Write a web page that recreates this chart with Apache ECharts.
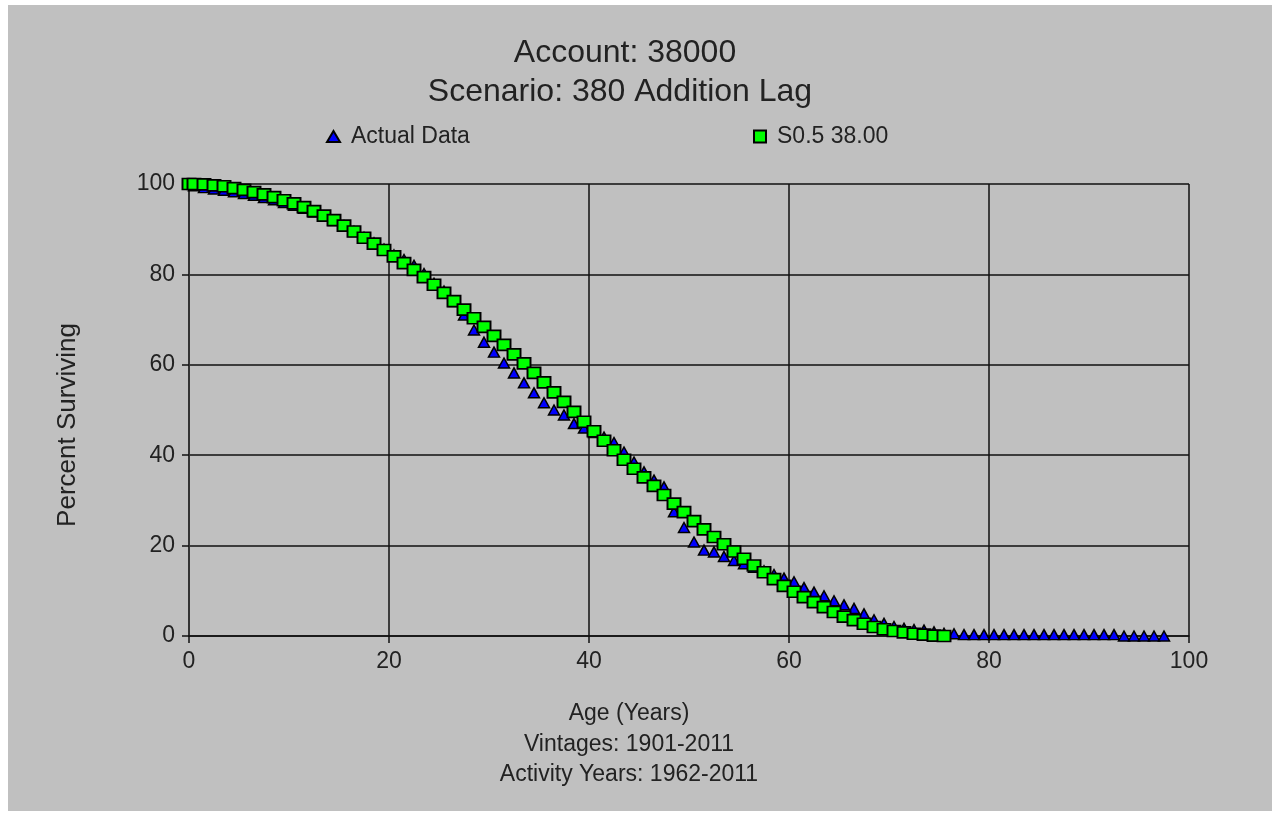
<!DOCTYPE html>
<html>
<head>
<meta charset="utf-8">
<title>Account 38000 - Percent Surviving</title>
<script src="https://cdn.jsdelivr.net/npm/echarts@6/dist/echarts.min.js"></script>
<style>
  html, body { margin: 0; padding: 0; background: #ffffff; }
  #panel { position: absolute; left: 8px; top: 5px; width: 1264px; height: 806px; background: #c0c0c0; }
  #chart { position: absolute; left: -8px; top: -5px; width: 1280px; height: 813px; }
</style>
</head>
<body>
<div id="panel"><div id="chart"></div></div>
<script>
// Observed survivorship: age (years) and percent surviving
const actualAges = [0, 0.5, 1.5, 2.5, 3.5, 4.5, 5.5, 6.5, 7.5, 8.5, 9.5, 10.5, 11.5, 12.5, 13.5, 14.5, 15.5, 16.5, 17.5, 18.5, 19.5,
  20.5, 21.5, 22.5, 23.5, 24.5, 25.5, 26.5, 27.5, 28.5, 29.5, 30.5, 31.5, 32.5, 33.5, 34.5, 35.5, 36.5, 37.5, 38.5, 39.5,
  40.5, 41.5, 42.5, 43.5, 44.5, 45.5, 46.5, 47.5, 48.5, 49.5, 50.5, 51.5, 52.5, 53.5, 54.5, 55.5, 56.5, 57.5, 58.5, 59.5,
  60.5, 61.5, 62.5, 63.5, 64.5, 65.5, 66.5, 67.5, 68.5, 69.5, 70.5, 71.5, 72.5, 73.5, 74.5, 75.5, 76.5, 77.5, 78.5, 79.5,
  80.5, 81.5, 82.5, 83.5, 84.5, 85.5, 86.5, 87.5, 88.5, 89.5, 90.5, 91.5, 92.5, 93.5, 94.5, 95.5, 96.5, 97.5];
const actualPct = [100, 99.6, 99.2, 98.9, 98.6, 98.3, 97.9, 97.5, 97.0, 96.5, 95.9, 95.3, 94.6, 93.8, 92.9, 91.9, 90.8, 89.5, 88.2, 87.0, 85.6,
  84.3, 83.3, 82.0, 80.2, 78.0, 76.3, 74.0, 71.0, 67.7, 65.0, 62.8, 60.4, 58.2, 56.0, 53.8, 51.6, 50.0, 48.9, 47.0, 46.0,
  45.0, 44.0, 42.8, 40.7, 38.5, 36.3, 34.5, 33.0, 27.5, 24.0, 20.8, 19.0, 18.6, 17.6, 16.7, 16.0, 15.2, 14.4, 13.6, 12.8,
  12.0, 10.7, 9.7, 8.9, 7.8, 6.9, 6.1, 4.9, 3.6, 2.8, 2.1, 1.7, 1.4, 1.3, 0.9, 0.6, 0.5, 0.3, 0.3, 0.3,
  0.3, 0.3, 0.3, 0.3, 0.3, 0.3, 0.3, 0.3, 0.3, 0.3, 0.3, 0.3, 0.3, 0, 0, 0, 0, 0];

// Fitted Iowa curve S0.5, average life 38.00
const curveAges = [0, 0.5, 1.5, 2.5, 3.5, 4.5, 5.5, 6.5, 7.5, 8.5, 9.5, 10.5, 11.5, 12.5, 13.5, 14.5, 15.5, 16.5, 17.5, 18.5, 19.5,
  20.5, 21.5, 22.5, 23.5, 24.5, 25.5, 26.5, 27.5, 28.5, 29.5, 30.5, 31.5, 32.5, 33.5, 34.5, 35.5, 36.5, 37.5, 38.5, 39.5,
  40.5, 41.5, 42.5, 43.5, 44.5, 45.5, 46.5, 47.5, 48.5, 49.5, 50.5, 51.5, 52.5, 53.5, 54.5, 55.5, 56.5, 57.5, 58.5, 59.5,
  60.5, 61.5, 62.5, 63.5, 64.5, 65.5, 66.5, 67.5, 68.5, 69.5, 70.5, 71.5, 72.5, 73.5, 74.5, 75.5];
const curvePct = [100, 100, 99.9, 99.7, 99.5, 99.1, 98.7, 98.2, 97.7, 97.1, 96.4, 95.7, 94.9, 94.0, 93.0, 92.0, 90.8, 89.5, 88.1, 86.8, 85.4,
  84.0, 82.5, 81.0, 79.4, 77.7, 75.9, 74.1, 72.2, 70.3, 68.4, 66.4, 64.4, 62.3, 60.3, 58.2, 56.1, 53.9, 51.8, 49.6, 47.4,
  45.3, 43.2, 41.1, 39.0, 37.0, 35.1, 33.2, 31.2, 29.3, 27.4, 25.4, 23.6, 21.9, 20.3, 18.7, 17.1, 15.6, 14.1, 12.6, 11.1,
  9.8, 8.6, 7.5, 6.4, 5.3, 4.3, 3.5, 2.7, 2.0, 1.5, 1.1, 0.8, 0.5, 0.3, 0.1, 0];

const xTicks = [0, 20, 40, 60, 80, 100];
const yTicks = [0, 20, 40, 60, 80, 100];

const seriesNames = ['Actual Data', 'S0.5 38.00'];
const titleLines = ['Account: 38000', 'Scenario: 380 Addition Lag'];
const xTitleLines = ['Age (Years)', 'Vintages: 1901-2011', 'Activity Years: 1962-2011'];
const yTitle = 'Percent Surviving';

const FONT = '"Liberation Sans", Arial, sans-serif';
const TXT = '#222222';

const actualData = actualAges.map((a, i) => [a, actualPct[i]]);
const curveData = curveAges.map((a, i) => [a, curvePct[i]]);

const chart = echarts.init(document.getElementById('chart'), null, { renderer: 'canvas' });

const gridLine = { show: true, lineStyle: { color: '#111', width: 1.5 } };

chart.setOption({
  backgroundColor: 'transparent',
  animation: false,
  title: [
    { text: titleLines[0], left: 620, top: 32, textAlign: 'center',
      textStyle: { fontFamily: FONT, fontSize: 32, fontWeight: 'normal', color: TXT } },
    { text: titleLines[1], left: 615, top: 71, textAlign: 'center',
      textStyle: { fontFamily: FONT, fontSize: 32, fontWeight: 'normal', color: TXT } }
  ],
  legend: [
    { data: [{ name: seriesNames[0], icon: 'triangle' }], left: 321, top: 120,
      itemWidth: 13, itemHeight: 11, itemGap: 6,
      textStyle: { fontFamily: FONT, fontSize: 23, color: TXT, padding: [2, 0, 0, 6] } },
    { data: [{ name: seriesNames[1], icon: 'rect' }], left: 748, top: 120,
      itemWidth: 12, itemHeight: 12, itemGap: 6,
      textStyle: { fontFamily: FONT, fontSize: 23, color: TXT, padding: [2, 0, 0, 6] } }
  ],
  grid: { left: 189, right: 91, top: 184, bottom: 177, containLabel: false },
  xAxis: {
    type: 'value', min: xTicks[0], max: xTicks[xTicks.length - 1], interval: 20,
    axisLine: { show: true, onZero: false, lineStyle: { color: '#111', width: 1.5 } },
    axisTick: { show: true, inside: false, length: 7, lineStyle: { color: '#111', width: 1.5 } },
    axisLabel: { margin: 14, fontFamily: FONT, fontSize: 23, color: TXT },
    splitLine: gridLine
  },
  yAxis: {
    type: 'value', min: yTicks[0], max: yTicks[yTicks.length - 1], interval: 20,
    axisLine: { show: true, onZero: false, lineStyle: { color: '#333', width: 2 } },
    axisTick: { show: true, inside: false, length: 7, lineStyle: { color: '#111', width: 1.5 } },
    axisLabel: { margin: 14, fontFamily: FONT, fontSize: 23, color: TXT },
    splitLine: gridLine
  },
  graphic: [
    { type: 'text', x: 68, y: 425, rotation: Math.PI / 2,
      style: { text: yTitle, textAlign: 'center', textVerticalAlign: 'middle',
               font: '26px ' + FONT, fill: TXT } },
    { type: 'text', x: 629, y: 714,
      style: { text: xTitleLines[0], textAlign: 'center', textVerticalAlign: 'middle',
               font: '23px ' + FONT, fill: TXT } },
    { type: 'text', x: 629, y: 745,
      style: { text: xTitleLines[1], textAlign: 'center', textVerticalAlign: 'middle',
               font: '23px ' + FONT, fill: TXT } },
    { type: 'text', x: 629, y: 775,
      style: { text: xTitleLines[2], textAlign: 'center', textVerticalAlign: 'middle',
               font: '23px ' + FONT, fill: TXT } }
  ],
  series: [
    {
      name: seriesNames[0], type: 'scatter', data: actualData,
      symbol: 'triangle', symbolSize: [11, 10],
      itemStyle: { color: '#0000ff', borderColor: '#000', borderWidth: 1.5, opacity: 1 },
      z: 2
    },
    {
      name: seriesNames[1], type: 'scatter', data: curveData,
      symbol: 'rect', symbolSize: [13, 11],
      itemStyle: { color: '#00ff00', borderColor: '#000', borderWidth: 1.8, opacity: 1 },
      z: 3
    }
  ]
});
</script>
</body>
</html>
